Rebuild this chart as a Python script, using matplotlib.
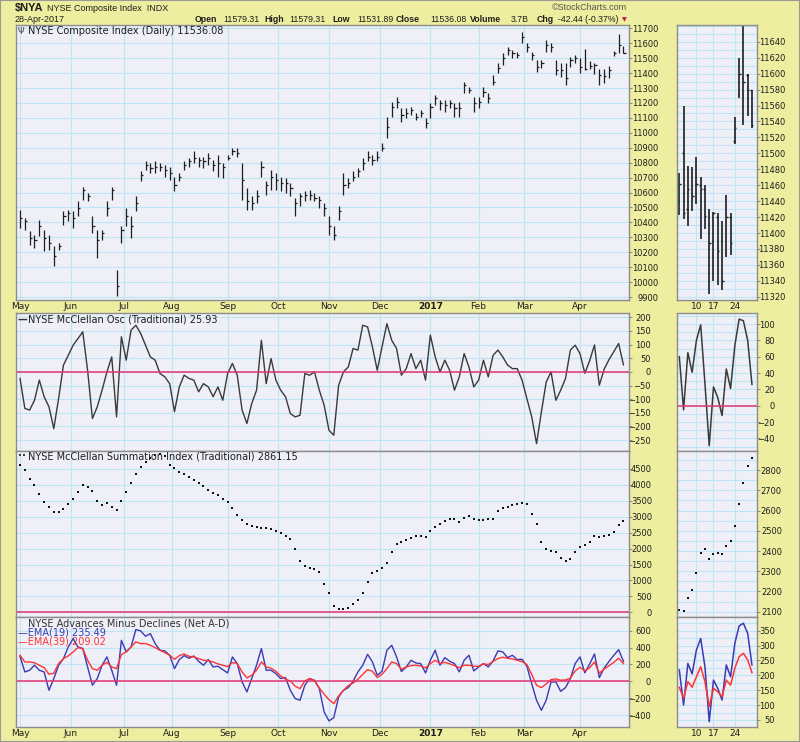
import numpy as np
import matplotlib
matplotlib.use("Agg")
import matplotlib.pyplot as plt
from matplotlib.patches import Rectangle

# ---- data (trading-day index, every 2nd day, May-2016 .. 28-Apr-2017) ----
day = list(range(0, 251, 2))

close = [10429, 10406, 10295, 10284, 10373, 10295, 10261, 10172, 10239, 10440,
         10462, 10429, 10496, 10618, 10574, 10373, 10284, 10328, 10496, 10618,
         9971, 10351, 10440, 10373, 10529, 10718, 10785, 10763, 10774, 10774,
         10752, 10730, 10652, 10707, 10785, 10808, 10830, 10819, 10808, 10830,
         10785, 10797, 10774, 10830, 10875, 10864, 10685, 10540, 10529, 10574,
         10774, 10652, 10707, 10685, 10663, 10663, 10629, 10529, 10574, 10585,
         10585, 10562, 10551, 10496, 10373, 10317, 10473, 10652, 10663, 10707,
         10741, 10797, 10841, 10819, 10841, 10897, 11042, 11176, 11209, 11120,
         11131, 11153, 11109, 11131, 11064, 11176, 11231, 11198, 11187, 11198,
         11165, 11165, 11321, 11287, 11198, 11209, 11276, 11231, 11343, 11432,
         11499, 11555, 11532, 11521, 11644, 11577, 11521, 11443, 11466, 11588,
         11577, 11421, 11421, 11365, 11488, 11499, 11440, 11425, 11446, 11455,
         11388, 11378, 11420, 11532, 11590, 11536]
high = [10484, 10429, 10339, 10317, 10418, 10351, 10317, 10239, 10261, 10473,
        10484, 10473, 10540, 10640, 10596, 10440, 10351, 10351, 10540, 10640,
        10083, 10373, 10496, 10440, 10574, 10741, 10808, 10797, 10808, 10797,
        10785, 10774, 10707, 10730, 10808, 10830, 10875, 10841, 10841, 10863,
        10819, 10852, 10797, 10852, 10897, 10897, 10797, 10629, 10574, 10618,
        10808, 10674, 10752, 10730, 10707, 10696, 10663, 10562, 10596, 10607,
        10618, 10596, 10574, 10529, 10440, 10373, 10507, 10730, 10696, 10741,
        10763, 10830, 10875, 10852, 10875, 10930, 11109, 11209, 11243, 11165,
        11165, 11176, 11131, 11153, 11098, 11198, 11254, 11220, 11220, 11220,
        11198, 11209, 11343, 11310, 11243, 11243, 11310, 11265, 11388, 11466,
        11533, 11577, 11555, 11544, 11677, 11599, 11544, 11488, 11488, 11622,
        11599, 11488, 11466, 11466, 11510, 11521, 11500, 11560, 11483, 11470,
        11430, 11425, 11448, 11545, 11660, 11579]
low = [10362, 10351, 10250, 10228, 10306, 10206, 10217, 10105, 10217, 10384,
       10406, 10362, 10440, 10551, 10540, 10328, 10161, 10284, 10440, 10551,
       9905, 10261, 10373, 10295, 10473, 10674, 10752, 10730, 10730, 10741,
       10707, 10685, 10607, 10674, 10752, 10774, 10797, 10774, 10763, 10785,
       10741, 10707, 10696, 10819, 10852, 10841, 10551, 10484, 10484, 10529,
       10707, 10585, 10618, 10618, 10607, 10596, 10574, 10440, 10507, 10540,
       10551, 10540, 10496, 10440, 10317, 10284, 10417, 10585, 10629, 10674,
       10707, 10752, 10808, 10785, 10808, 10875, 10964, 11109, 11165, 11075,
       11098, 11120, 11086, 11109, 11031, 11098, 11187, 11153, 11142, 11165,
       11109, 11109, 11265, 11265, 11142, 11165, 11243, 11198, 11321, 11399,
       11454, 11521, 11499, 11499, 11599, 11544, 11488, 11410, 11432, 11544,
       11544, 11388, 11376, 11321, 11443, 11466, 11400, 11418, 11428, 11392,
       11323, 11335, 11370, 11512, 11536, 11532]

osc = [-24, -134, -140, -104, -30, -91, -128, -208, -97, 25,
       61, 98, 122, 147, 6, -171, -128, -67, 0, 55,
       -165, 129, 43, 153, 171, 141, 98, 55, 43, -6,
       -18, -43, -146, -55, -12, -24, -30, -73, -43, -55,
       -91, -55, -104, -6, 31, -12, -140, -189, -116, -67,
       116, -43, 49, -30, -67, -91, -153, -165, -159, -6,
       -12, 0, -67, -122, -214, -232, -49, 0, 18, 86,
       80, 171, 165, 92, 6, 92, 177, 116, 86, -12,
       12, 67, 12, 43, -30, 135, 55, 0, 43, 6,
       -67, -18, 67, 18, -55, -30, 43, -18, 61, 80,
       55, 25, 12, 12, -30, -98, -165, -263, -147, -37,
       0, -104, -67, -24, 80, 98, 67, -5, 41, 99,
       -49, 10, 45, 74, 104, 26]

summation = [4620, 4454, 4200, 3985, 3720, 3470, 3300, 3150, 3160, 3250,
             3400, 3570, 3780, 3990, 3950, 3800, 3480, 3360, 3420, 3300,
             3220, 3480, 3780, 4050, 4350, 4550, 4720, 4860, 4940, 4960,
             4900, 4620, 4520, 4400, 4330, 4240, 4150, 4060, 3960, 3850,
             3760, 3670, 3560, 3450, 3260, 3060, 2890, 2760, 2700, 2670,
             2660, 2640, 2600, 2540, 2480, 2400, 2290, 2000, 1600, 1440,
             1400, 1370, 1260, 900, 620, 200, 110, 103, 140, 250,
             390, 620, 950, 1230, 1300, 1400, 1560, 1900, 2160, 2200,
             2270, 2330, 2410, 2400, 2366, 2540, 2680, 2786, 2860, 2920,
             2940, 2850, 2950, 3014, 2942, 2900, 2900, 2942, 2942, 3180,
             3260, 3320, 3370, 3400, 3430, 3390, 3100, 2786, 2200, 1980,
             1940, 1880, 1720, 1600, 1680, 1900, 2050, 2103, 2207, 2392,
             2362, 2392, 2425, 2523, 2734, 2861]

ema19 = [296, 111, 131, 190, 131, 111, -107, 32, 190, 269,
         407, 506, 407, 388, 170, -47, 32, 190, 289, 131,
         -47, 486, 348, 407, 613, 597, 534, 565, 447, 368,
         360, 308, 150, 257, 304, 273, 300, 237, 190, 257,
         170, 178, 138, 99, 289, 210, -8, -126, 32, 190,
         388, 131, 131, 91, 32, 44, -107, -205, -225, -47,
         32, 12, -87, -364, -470, -431, -186, -107, -75, 0,
         111, 190, 320, 229, 71, 119, 368, 427, 289, 115,
         170, 249, 217, 210, 99, 249, 368, 190, 281, 237,
         210, 111, 249, 308, 123, 170, 210, 170, 241, 360,
         348, 281, 308, 257, 261, 178, -28, -225, -344, -225,
         -8, -8, -119, -75, 32, 210, 289, 100, 205, 324,
         44, 156, 235, 308, 375, 235]
ema39 = [308, 229, 229, 220, 190, 162, 83, 95, 210, 269,
         300, 348, 399, 388, 249, 150, 131, 190, 225, 170,
         150, 316, 348, 407, 467, 447, 447, 427, 399, 368,
         340, 308, 261, 304, 324, 296, 289, 269, 249, 245,
         229, 206, 190, 174, 222, 210, 111, 40, 71, 131,
         229, 170, 154, 119, 63, 24, 4, -59, -87, 4,
         32, 8, -79, -154, -217, -265, -174, -107, -51, -20,
         24, 83, 138, 119, 44, 83, 150, 229, 210, 142,
         170, 186, 190, 182, 158, 210, 249, 210, 225, 206,
         186, 162, 190, 190, 178, 178, 206, 198, 237, 269,
         285, 273, 265, 249, 233, 198, 83, -47, -75, -32,
         20, 28, 12, 16, 36, 123, 166, 123, 160, 229,
         95, 145, 184, 224, 274, 209]

month_pos = [0, 21, 43, 63, 86, 107, 128, 149, 170, 190, 209, 232]
month_labels = ["May", "Jun", "Jul", "Aug", "Sep", "Oct", "Nov", "Dec",
                "2017", "Feb", "Mar", "Apr"]

# side panels: daily, 4-Apr .. 28-Apr-2017
side_day = list(range(18))
side_open = [11440, 11500, 11430, 11450, 11470, 11460, 11455, 11420, 11390,
             11420, 11390, 11375, 11420, 11515, 11575, 11595, 11598, 11579]
side_high = [11475, 11560, 11484, 11483, 11495, 11470, 11460, 11430, 11426,
             11425, 11415, 11448, 11425, 11545, 11620, 11660, 11600, 11579]
side_low = [11423, 11418, 11409, 11428, 11436, 11392, 11405, 11323, 11340,
            11335, 11328, 11370, 11373, 11512, 11570, 11536, 11547, 11532]
side_close = [11462, 11425, 11455, 11446, 11462, 11455, 11422, 11388, 11425,
              11378, 11340, 11420, 11387, 11532, 11600, 11590, 11580, 11536]
side_osc = [60, -5, 65, 41, 80, 99, 27, -49, 23, 10, -12, 45, 21, 74, 106, 104, 80, 26]
side_summation = [2108, 2103, 2166, 2207, 2293, 2392, 2408, 2362, 2384, 2392,
                  2384, 2425, 2449, 2523, 2630, 2734, 2820, 2861]
side_ema19 = [218, 100, 240, 205, 285, 324, 229, 44, 184, 156, 117, 235, 195,
              308, 366, 375, 341, 235]
side_ema39 = [160, 123, 179, 160, 195, 229, 179, 95, 156, 145, 128, 184, 167,
              224, 263, 274, 252, 209]
side_tick_pos = [4, 8, 13]
side_tick_labels = ["10", "17", "24"]

# ---- style ----
W, H = 800, 742
BG = "#eeeea0"
PANEL = "#efeff7"
GRID = "#bde5f3"
ZERO = "#e8336e"
EDGE = "#8c8c8c"
INK = "#1e1e1e"
HEAD_FONT = ["Liberation Sans", "DejaVu Sans"]
plt.rcParams["font.family"] = ["DejaVu Sans"]

fig = plt.figure(figsize=(W / 100, H / 100), dpi=100, facecolor=BG)


def panel(x0, y0, x1, y1):
    ax = fig.add_axes([x0 / W, 1 - y1 / H, (x1 - x0) / W, (y1 - y0) / H])
    ax.set_facecolor(PANEL)
    for s in ax.spines.values():
        s.set_color(EDGE)
        s.set_linewidth(1.0)
    ax.set_axisbelow(True)
    return ax


def yaxis(ax, ticks, minor, lim, edge_px, right_px):
    ax.set_ylim(*lim)
    ax.set_yticks(ticks)
    ax.set_yticks(minor, minor=True)
    ax.yaxis.tick_right()
    pad = (right_px - edge_px) * 0.72 - 2.5
    ax.tick_params(axis="y", which="major", length=2.5, width=0.6, color="#777777",
                   labelsize=6, labelcolor=INK, pad=pad)
    ax.tick_params(axis="y", which="minor", length=0)
    ax.grid(True, axis="y", which="both", color=GRID, lw=0.8)


def xaxis(ax, pos, labels, lim, show):
    ax.set_xlim(*lim)
    ax.set_xticks(pos)
    ax.grid(True, axis="x", color=GRID, lw=0.8)
    if show:
        ax.set_xticklabels(labels)
        ax.tick_params(axis="x", length=0, pad=1.5, labelsize=6.5, labelcolor=INK)
    else:
        ax.tick_params(axis="x", length=0, labelbottom=False)


MX = (-1.66, 252.3)
SX = (-0.54, 18.18)

# main panels
ax_p = panel(16, 25, 629, 300)
ax_o = panel(16, 313, 629, 451)
ax_s = panel(16, 451, 629, 617)
ax_a = panel(16, 617, 629, 727)
# side panels
sx_p = panel(677, 25, 757, 300)
sx_o = panel(677, 313, 757, 451)
sx_s = panel(677, 451, 757, 617)
sx_a = panel(677, 617, 757, 727)

# price bars
d = np.array(day)
ax_p.vlines(d, low, high, color=INK, lw=0.9)
ax_p.hlines(close, d, d + 0.9, color=INK, lw=0.9)
yaxis(ax_p, range(9900, 11701, 100), [], (9880, 11722), 629, 658)
xaxis(ax_p, month_pos, month_labels, MX, True)

ax_o.plot(day, osc, color="#3a3a3a", lw=1.0)
ax_o.axhline(0, color=ZERO, lw=1.1)
yaxis(ax_o, range(-250, 201, 50), [], (-290, 216), 629, 651)
xaxis(ax_o, month_pos, month_labels, MX, False)

ax_s.plot(day, summation, "s", ms=1.8, mew=0, color="#111111")
ax_s.axhline(0, color=ZERO, lw=1.1)
yaxis(ax_s, range(0, 4501, 500), [], (-148, 5065), 629, 652)
xaxis(ax_s, month_pos, month_labels, MX, False)

ax_a.plot(day, ema19, color="#3a3ab4", lw=1.0)
ax_a.plot(day, ema39, color="#ff3333", lw=1.0)
ax_a.axhline(0, color=ZERO, lw=1.1)
yaxis(ax_a, range(-400, 601, 200), [], (-542, 762), 629, 651)
xaxis(ax_a, month_pos, month_labels, MX, True)

for ax in (ax_p, ax_a):
    for lbl in ax.get_xticklabels():
        if lbl.get_text() == "2017":
            lbl.set_fontweight("bold")

# side panels
sd = np.array(side_day)
sx_p.vlines(sd, side_low, side_high, color=INK, lw=1.2)
sx_p.hlines(side_open, sd - 0.35, sd, color=INK, lw=1.0)
sx_p.hlines(side_close, sd, sd + 0.35, color=INK, lw=1.0)
yaxis(sx_p, range(11320, 11641, 20), range(11320, 11661, 10), (11316, 11661), 757, 785)
xaxis(sx_p, side_tick_pos, side_tick_labels, SX, True)

sx_o.plot(side_day, side_osc, color="#3a3a3a", lw=1.1)
sx_o.axhline(0, color=ZERO, lw=1.1)
yaxis(sx_o, range(-40, 101, 20), range(-50, 111, 10), (-55.4, 113.5), 757, 775)
xaxis(sx_o, side_tick_pos, side_tick_labels, SX, False)

sx_s.plot(side_day, side_summation, "s", ms=2.0, mew=0, color="#111111")
yaxis(sx_s, range(2100, 2801, 100), range(2100, 2891, 50), (2074, 2894), 757, 782)
xaxis(sx_s, side_tick_pos, side_tick_labels, SX, False)

sx_a.plot(side_day, side_ema19, color="#3a3ab4", lw=1.1)
sx_a.plot(side_day, side_ema39, color="#ff3333", lw=1.1)
yaxis(sx_a, range(50, 351, 50), range(50, 391, 25), (26.4, 396), 757, 775)
xaxis(sx_a, side_tick_pos, side_tick_labels, SX, True)

for ax in (ax_p, ax_o, ax_s, ax_a, sx_p, sx_o, sx_s, sx_a):
    for t in ax.yaxis.get_major_ticks():
        t.label2.set_horizontalalignment("right")


def ftext(x, y, s, **kw):
    kw.setdefault("fontsize", 7)
    kw.setdefault("color", INK)
    kw.setdefault("va", "center")
    return fig.text(x / W, 1 - y / H, s, **kw)


# panel captions
ftext(18, 31.5, "\u03a8", fontsize=6, color="#444444")
ftext(28, 31.5, "NYSE Composite Index (Daily) 11536.08")
ftext(18, 319.5, "\u2014", fontsize=7, fontweight="bold", color="#333333")
ftext(28, 319.5, "NYSE McClellan Osc (Traditional) 25.93")
ftext(18, 456.5, "\u2022\u2022", fontsize=5, color="#111111")
ftext(28, 456.5, "NYSE McClellan Summation Index (Traditional) 2861.15")
ftext(28, 624, "NYSE Advances Minus Declines (Net A-D)", color="#333333")
ftext(18, 632.5, "\u2014EMA(19) 235.49", color="#3a3ab4")
ftext(18, 641.5, "\u2014EMA(39) 209.02", color="#ff3333")

# header
ftext(15, 8, "$NYA", fontsize=8, fontweight="bold", family=HEAD_FONT)
ftext(47, 8.5, "NYSE Composite Index  INDX", fontsize=6.5, family=HEAD_FONT)
ftext(15, 20, "28-Apr-2017", fontsize=6.5, family=HEAD_FONT)
ftext(552, 8, "\u00a9StockCharts.com", fontsize=6.5, color="#555555", family=HEAD_FONT)
header = [(195, "Open", True), (223, "11579.31", False), (264, "High", True),
          (289, "11579.31", False), (332, "Low", True), (357, "11531.89", False),
          (396, "Close", True), (430, "11536.08", False), (470, "Volume", True),
          (511, "3.7B", False), (537, "Chg", True), (558, "-42.44 (-0.37%)", False)]
for x, s, b in header:
    ftext(x, 20, s, fontsize=6.3, fontweight="bold" if b else "normal",
          family=HEAD_FONT)
ftext(622, 20, "\u25bc", fontsize=4.5, color="#c01050")

fig.patches.append(Rectangle((0, 0), 1, 1, transform=fig.transFigure, fill=False,
                             edgecolor="#9a9a9a", lw=1.5))

fig.savefig("out.png", dpi=100, facecolor=BG)
